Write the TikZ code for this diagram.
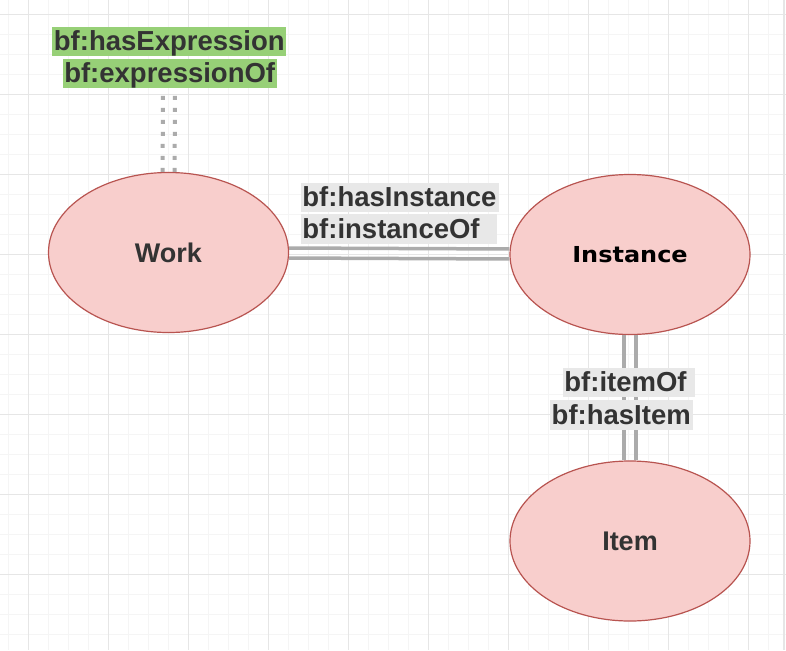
\documentclass[tikz,border=0pt]{standalone}
\usepackage{fontspec}
\setmainfont{Liberation Sans}
\newfontfamily\instfont{DejaVu Sans}
\usetikzlibrary{shapes.geometric}
\definecolor{nodefill}{HTML}{F8CECC}
\definecolor{nodedraw}{HTML}{B85450}
\definecolor{txtgray}{HTML}{333333}
\definecolor{linkgray}{HTML}{ABABAB}
\definecolor{lblgray}{HTML}{E8E8E8}
\definecolor{lblgreen}{HTML}{97D077}
\definecolor{gridmajor}{HTML}{E6E6E6}
\definecolor{gridminor}{HTML}{F5F5F5}
\tikzset{
  entity/.style={ellipse, draw=nodedraw, fill=nodefill, line width=1.2pt,
    minimum width=240pt, minimum height=160pt, inner sep=0pt,
    font=\fontsize{27}{32}\selectfont\bfseries, text=txtgray},
  lbl/.style={inner xsep=1.5pt, inner ysep=0pt, text height=24pt, text depth=5.5pt,
    font=\fontsize{27.5}{33}\selectfont\bfseries, text=txtgray},
  graylbl/.style={lbl, fill=lblgray, anchor=west, align=left},
  greenlbl/.style={lbl, fill=lblgreen},
  linkline/.style={draw=linkgray, line width=3.5pt},
  dotline/.style={draw=linkgray, line width=4pt, dash pattern=on 4pt off 8pt}
}
\begin{document}
\begin{tikzpicture}[x=1pt, y=-1pt]
\useasboundingbox (0,0) rectangle (786,650);
\fill[white] (0,0) rectangle (786,650);
% grid
\foreach \k in {0,...,38} \draw[gridminor, line width=0.8pt] (8.5+20*\k,0) -- (8.5+20*\k,650);
\foreach \k in {0,...,31} \draw[gridminor, line width=0.8pt] (0,14.5+20*\k) -- (786,14.5+20*\k);
\foreach \k in {0,...,9} \draw[gridmajor, line width=1pt] (28.5+80*\k,0) -- (28.5+80*\k,650);
\foreach \k in {0,...,7} \draw[gridmajor, line width=1pt] (0,14.5+80*\k) -- (786,14.5+80*\k);
\draw[gridmajor, line width=1.2pt] (784,0) -- (784,650);
% nodes
\node[entity] (work) at (168.5,252.5) {Work};
\node[entity] (inst) at (630,254.5) {\instfont\fontsize{22}{26}\selectfont\bfseries\color{black}\scalebox{1.09}[1]{Instance}};
\node[entity] (item) at (630,541) {Item};
\coordinate (exptop) at (169,30);
% links
\draw[linkline, transform canvas={yshift=5pt}] (work) -- (inst);
\draw[linkline, transform canvas={yshift=-5pt}] (work) -- (inst);
\draw[linkline, transform canvas={xshift=-6pt}] (inst) -- (item);
\draw[linkline, transform canvas={xshift=6pt}] (inst) -- (item);
\draw[dotline, transform canvas={xshift=-6pt}] (work) -- (exptop);
\draw[dotline, transform canvas={xshift=6pt}] (work) -- (exptop);
% labels
\node[greenlbl] (lexp1) at (169.3,41.3) {bf:hasExpression};
\node[greenlbl] (lexp2) at (169.7,73.5) {bf:expressionOf};
\node[graylbl, text width=195pt] (linst1) at (300.7,197.5) {bf:hasInstance};
\node[graylbl, text width=193pt] (linst2) at (300.7,229) {bf:instanceOf};
\node[graylbl, text width=129pt] (litem1) at (562.7,382.3) {bf:itemOf};
\node[graylbl, text width=140pt] (litem2) at (550,415) {bf:hasItem};
\end{tikzpicture}
\end{document}
